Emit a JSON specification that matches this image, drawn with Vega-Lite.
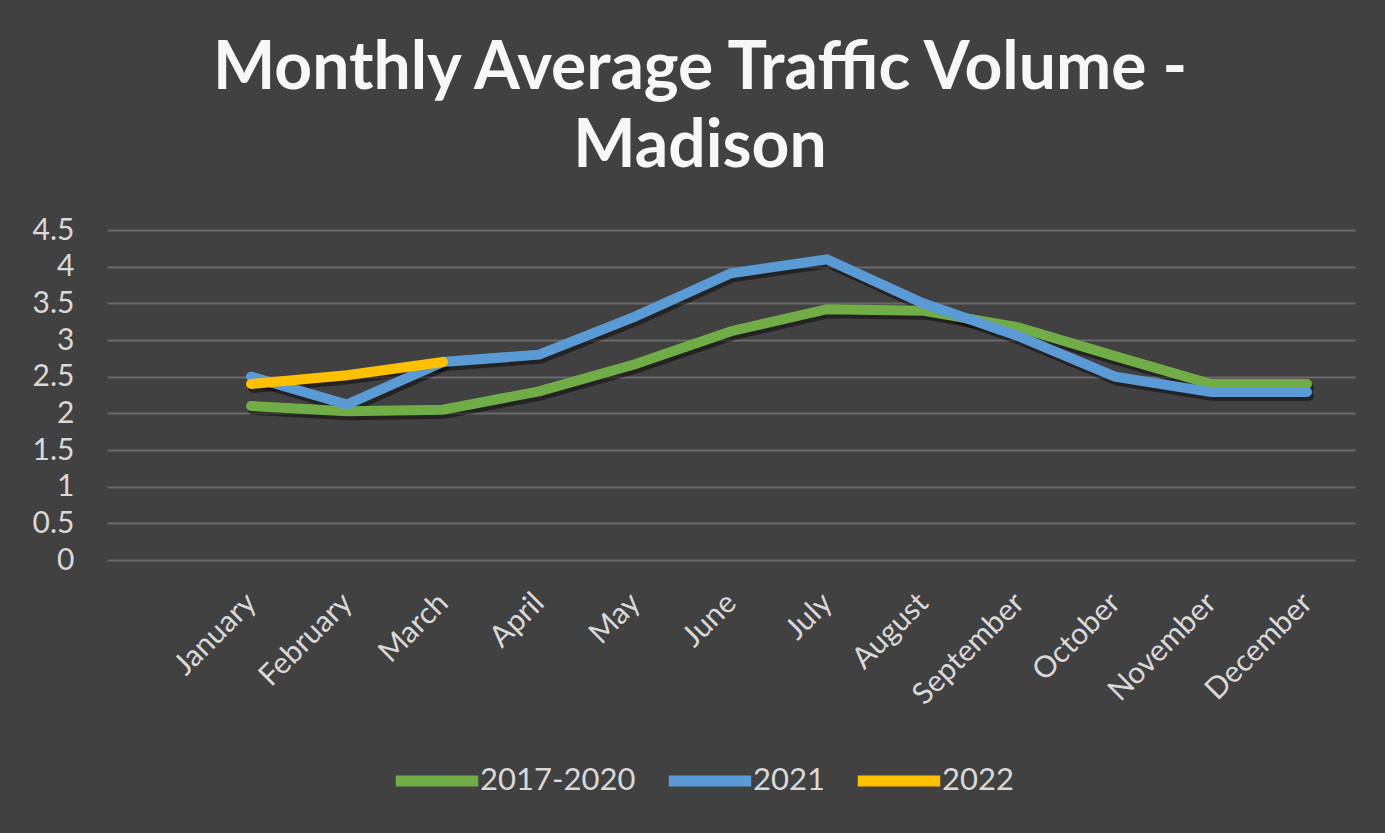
{
  "$schema": "https://vega.github.io/schema/vega-lite/v6.json",
  "width": 1248,
  "height": 330,
  "autosize": {"type": "none"},
  "padding": {"left": 107, "top": 230, "right": 30, "bottom": 273},
  "background": "#414141",
  "title": {
    "text": ["Monthly Average Traffic Volume -", "Madison"],
    "font": "Lato",
    "fontSize": 66,
    "fontWeight": "bold",
    "color": "#f7f7f7",
    "anchor": "middle",
    "lineHeight": 78,
    "offset": 34,
    "dx": -31
  },
  "data": {
    "values": [
      {"month": "January", "series": "2017-2020", "value": 2.1},
      {"month": "February", "series": "2017-2020", "value": 2.03},
      {"month": "March", "series": "2017-2020", "value": 2.05},
      {"month": "April", "series": "2017-2020", "value": 2.3},
      {"month": "May", "series": "2017-2020", "value": 2.67},
      {"month": "June", "series": "2017-2020", "value": 3.12},
      {"month": "July", "series": "2017-2020", "value": 3.42},
      {"month": "August", "series": "2017-2020", "value": 3.4},
      {"month": "September", "series": "2017-2020", "value": 3.17},
      {"month": "October", "series": "2017-2020", "value": 2.78},
      {"month": "November", "series": "2017-2020", "value": 2.4},
      {"month": "December", "series": "2017-2020", "value": 2.4},
      {"month": "January", "series": "2021", "value": 2.5},
      {"month": "February", "series": "2021", "value": 2.12},
      {"month": "March", "series": "2021", "value": 2.7},
      {"month": "April", "series": "2021", "value": 2.8},
      {"month": "May", "series": "2021", "value": 3.32},
      {"month": "June", "series": "2021", "value": 3.91},
      {"month": "July", "series": "2021", "value": 4.1},
      {"month": "August", "series": "2021", "value": 3.5},
      {"month": "September", "series": "2021", "value": 3.05},
      {"month": "October", "series": "2021", "value": 2.5},
      {"month": "November", "series": "2021", "value": 2.29},
      {"month": "December", "series": "2021", "value": 2.29},
      {"month": "January", "series": "2022", "value": 2.4},
      {"month": "February", "series": "2022", "value": 2.52},
      {"month": "March", "series": "2022", "value": 2.7}
    ]
  },
  "encoding": {
    "x": {
      "field": "month",
      "type": "ordinal",
      "sort": [" ", "January", "February", "March", "April", "May", "June", "July", "August", "September", "October", "November", "December"],
      "scale": {"type": "point", "padding": 0.5, "domain": [" ", "January", "February", "March", "April", "May", "June", "July", "August", "September", "October", "November", "December"]},
      "axis": {
        "title": null,
        "domain": false,
        "ticks": false,
        "tickSize": 0,
        "grid": false,
        "labelAngle": -45,
        "labelAlign": "right",
        "labelBaseline": "middle",
        "labelPadding": 38,
        "labelFont": "Lato",
        "labelFontSize": 30,
        "labelColor": "#d9d9d9"
      }
    },
    "y": {
      "field": "value",
      "type": "quantitative",
      "scale": {"domain": [0, 4.5], "nice": false},
      "axis": {
        "title": null,
        "values": [0, 0.5, 1, 1.5, 2, 2.5, 3, 3.5, 4, 4.5],
        "format": "~g",
        "domain": false,
        "ticks": false,
        "tickSize": 0,
        "labelPadding": 33,
        "labelFont": "Lato",
        "labelFontSize": 30,
        "labelColor": "#d9d9d9",
        "grid": true,
        "gridColor": "#6a6a6a",
        "gridWidth": 2
      }
    }
  },
  "layer": [
    {
      "mark": {"type": "line", "strokeWidth": 10, "strokeCap": "round", "strokeJoin": "miter", "color": "#000000", "opacity": 0.45, "xOffset": 2, "yOffset": 4},
      "encoding": {"detail": {"field": "series"}}
    },
    {
      "mark": {"type": "line", "strokeWidth": 10, "strokeCap": "round", "strokeJoin": "miter"},
      "encoding": {
        "color": {
          "field": "series",
          "type": "nominal",
          "scale": {"domain": ["2017-2020", "2021", "2022"], "range": ["#70ad47", "#5b9bd5", "#ffc000"]},
          "legend": {
            "title": null,
            "orient": "none",
            "direction": "horizontal",
            "legendX": 283,
            "legendY": 504,
            "symbolType": "stroke",
            "symbolSize": 6800,
            "symbolStrokeWidth": 11,
            "labelFont": "Lato",
            "labelFontSize": 31,
            "labelColor": "#d9d9d9",
            "labelOffset": -4,
            "columnPadding": 10,
            "symbolOpacity": 1
          }
        }
      }
    }
  ],
  "config": {"view": {"stroke": null}}
}
